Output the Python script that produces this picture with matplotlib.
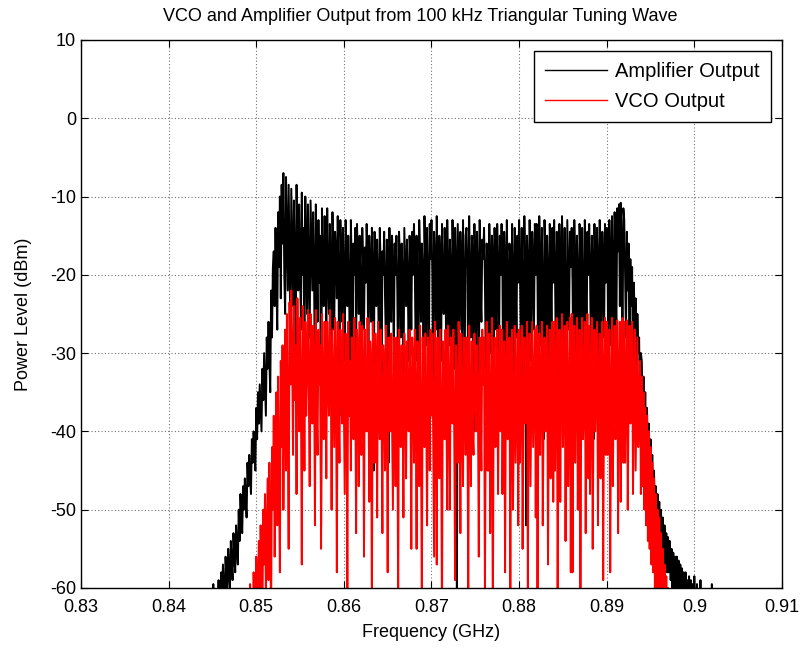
import numpy as np
import matplotlib
matplotlib.use("Agg")
import matplotlib.pyplot as plt

plt.rcParams['font.family'] = ['Liberation Sans', 'DejaVu Sans']
plt.rcParams['axes.unicode_minus'] = False

# spectrum samples, 0.1 MHz apart (values in dBm)
f_step = 0.0001

amp_start = 0.844
amp_dbm = [
    -70, -72, -68, -73, -69, -66, -71, -64, -70, -63, -68, -59.5, -66, -62, -67, -61, -64, -59, -65, -62,
    -58, -62, -57, -60, -63, -56, -59, -61, -55, -58, -60, -54, -57, -59, -53, -56, -58, -52, -55, -57,
    -50, -54, -48, -51, -53, -47, -50, -46, -49, -51, -44, -47, -43, -46, -48, -41, -44, -40, -43, -45,
    -37, -41, -35, -39, -34, -37, -40, -32, -36, -30, -34, -38, -28, -32, -26, -31, -35, -22, -28, -19,
    -17, -24, -14, -21, -27, -12, -19, -10, -23, -8.5, -16, -7, -20, -25, -7.5, -15, -22, -8.5, -18, -28,
    -9, -17, -24, -10.5, -19, -30, -8.5, -16, -22, -11, -18, -27, -9.5, -20, -14, -33, -10, -17, -25, -11,
    -19, -28, -10.5, -16, -22, -12, -20, -35, -11, -18, -26, -13, -21, -15, -52, -11.5, -19, -24, -12.5, -17,
    -29, -11.5, -20, -25, -13.5, -18, -32, -12, -19, -27, -14.5, -17, -23, -12.5, -21, -38, -13, -18, -26, -14,
    -20, -31, -13, -17, -24, -15, -21, -36, -13, -19, -28, -16, -20, -14, -30, -13.5, -18, -25, -15, -22,
    -40, -14, -19, -27, -16.5, -21, -13.5, -18, -33, -15, -20, -26, -14, -19, -45, -14.5, -18, -24, -15.5, -21,
    -30, -14, -19, -37, -17, -20, -14.5, -23, -29, -15.5, -18, -44, -14, -21, -26, -15, -19, -32, -16, -20,
    -15, -22, -35, -14.5, -18, -28, -16, -20, -39, -14, -19, -24, -15.5, -21, -31, -15, -18, -27, -14.5, -20,
    -13.5, -19, -31, -15, -22, -40, -13, -18, -26, -16, -20, -36, -12.5, -19, -29, -14, -21, -33, -13.5, -18,
    -13, -20, -37, -14.5, -18, -27, -12.5, -21, -42, -15, -19, -31, -13.5, -22, -25, -14, -18, -35, -13, -20,
    -29, -15.5, -19, -38, -13, -21, -32, -14, -18, -63, -13.5, -20, -27, -14.5, -19, -34, -13, -22, -30, -15,
    -14, -19, -36, -12.5, -21, -28, -15, -18, -40, -13.5, -20, -29, -14.5, -19, -37, -13, -22, -26, -15.5, -18,
    -14, -21, -32, -16, -19, -45, -13.5, -20, -30, -15, -18, -38, -14, -22, -27, -13.5, -19, -33, -15, -20,
    -13.5, -20, -39, -14.5, -19, -31, -13, -21, -35, -16, -18, -30, -13.5, -20, -42, -14, -19, -28, -15, -21,
    -13, -19, -30, -14, -22, -37, -12.5, -20, -52, -15, -18, -40, -13, -21, -31, -14.5, -19, -27, -13.5, -20,
    -13.5, -21, -36, -12.5, -19, -29, -14, -22, -41, -13, -18, -32, -15, -20, -37, -13.5, -19, -28, -14, -21,
    -13, -20, -31, -14.5, -18, -38, -13.5, -21, -30, -12.5, -19, -35, -14, -22, -43, -13, -20, -27, -14.5, -19,
    -14, -21, -34, -13, -19, -30, -15, -20, -39, -13.5, -18, -32, -14, -22, -36, -13, -19, -29, -14.5, -20,
    -13.5, -20, -30, -15, -19, -41, -13.5, -21, -33, -14, -18, -37, -13, -20, -31, -14.5, -19, -28, -13.5, -21,
    -14, -19, -35, -13, -20, -29, -12.5, -18, -33, -12, -19, -28, -11.5, -17, -11, -24, -10.8, -16, -30, -11.5,
    -13, -20, -28, -14.5, -22, -16, -33, -18, -24, -19, -34, -21, -27, -23, -36, -25, -30, -28, -39, -30,
    -31, -38, -33, -40, -35, -42, -37, -44, -39, -46, -41, -48, -43, -49, -45, -51, -47, -52, -48, -53,
    -49, -54, -50, -55, -51, -56, -52, -57, -53, -58, -53.5, -58, -54, -59, -55, -60, -55.5, -61, -56, -62,
    -56, -61, -56.5, -63, -57, -62, -57.5, -64, -58, -63, -58, -65, -59, -64, -58.5, -66, -59, -65, -59.5, -67,
    -58.5, -66, -62, -59.5, -68, -64, -70, -59, -69, -66, -71, -63, -70, -67, -72, -65, -71, -68, -73, -66,
    -59.5, -70, -72, -68, -73, -70, -74, -71, -75, -72, -76, -73, -75, -74, -76, -75, -77, -76, -78, -77,
]

vco_start = 0.848
vco_dbm = [
    -72, -75, -70, -74, -71, -73, -69, -72, -68, -71, -66, -70, -64, -59.5, -66, -62, -68, -58, -63, -67,
    -56, -64, -60, -54, -62, -52, -58, -65, -50, -57, -48, -61, -53, -46, -59, -44, -55, -63, -42, -50,
    -38, -56, -44, -35, -52, -33, -47, -58, -31, -42, -29, -50, -37, -27, -45, -25, -39, -55, -23.5, -34,
    -22, -31, -43, -24, -36, -29, -48, -23, -33, -40, -25.5, -35, -57, -24, -30, -45, -26, -38, -32, -24.5,
    -35, -47, -25, -33, -39, -26.5, -31, -52, -24.5, -37, -43, -27, -34, -29, -55, -25, -36, -41, -26, -32,
    -46, -26, -33, -38, -24.5, -30, -50, -27, -35, -42, -25.5, -31, -58, -26, -37, -44, -27, -32, -39, -25,
    -36, -48, -27.5, -33, -60, -26, -38, -31, -45, -28, -35, -41, -25.5, -34, -53, -27, -30, -47, -26, -39,
    -43, -26.5, -32, -56, -27, -36, -40, -25.5, -34, -49, -28.5, -31, -64, -26, -37, -44, -27.5, -33, -51, -26,
    -35, -41, -27, -38, -53, -29, -32, -45, -26.5, -36, -58, -28, -33, -40, -27.5, -39, -50, -28, -34, -47,
    -28, -37, -62, -27, -33, -42, -29, -36, -51, -27.5, -32, -46, -28.5, -38, -40, -27, -35, -55, -28, -31,
    -44, -27, -36, -55, -28.5, -33, -47, -26.5, -39, -63, -28, -34, -42, -27.5, -37, -52, -28, -31, -45, -27,
    -38, -27.5, -42, -56, -26, -34, -57, -28, -36, -46, -27, -39, -65, -28.5, -33, -41, -27, -37, -50, -26.5,
    -35, -50, -28, -32, -39, -27, -41, -59, -29, -36, -44, -26, -34, -53, -27.5, -38, -47, -28, -33, -43,
    -28, -37, -62, -26.5, -35, -47, -28.5, -40, -43, -27.5, -33, -40, -29, -36, -56, -28, -39, -45, -27, -34,
    -28, -61, -36, -26, -45, -33, -27.5, -53, -38, -25.5, -66, -34, -28, -42, -37, -27, -48, -32, -26.5, -40,
    -27, -48, -35, -28.5, -58, -33, -26, -41, -37, -28, -63, -34, -27, -50, -39, -26.5, -44, -36, -27.5, -52,
    -27, -44, -33, -26.5, -55, -38, -28, -39, -35, -26, -60, -32, -27.5, -47, -36, -26, -42, -34, -27, -51,
    -26.5, -64, -37, -27.5, -43, -33, -26, -52, -38, -28, -40, -35, -26.5, -57, -34, -27, -46, -39, -26, -49,
    -26, -45, -34, -25.5, -61, -38, -27, -49, -33, -25, -42, -36, -26.5, -54, -32, -26, -47, -37, -25.5, -58,
    -25, -58, -35, -26.5, -44, -33, -25.5, -50, -37, -27, -62, -34, -25.5, -41, -36, -26, -53, -32, -25, -46,
    -26.5, -48, -34, -25.5, -55, -37, -27, -40, -33, -26, -52, -36, -27.5, -46, -35, -26, -59, -33, -25.5, -43,
    -26, -43, -33, -27, -58, -36, -25.5, -47, -34, -26.5, -41, -38, -25.8, -53, -32, -26, -49, -35, -25.5, -44,
    -26, -44, -34, -25.8, -50, -36, -26.5, -39, -33, -26, -48, -35, -27, -45, -37, -28, -42, -36, -31, -48,
    -33, -47, -35, -50, -37, -52, -38, -54, -40, -55, -42, -57, -44, -58, -46, -60, -48, -61, -50, -63,
    -51, -63, -53, -65, -55, -66, -57, -68, -58.5, -69, -60, -70, -62, -71, -64, -72, -66, -73, -68, -74,
]

x_ticks = [0.83, 0.84, 0.85, 0.86, 0.87, 0.88, 0.89, 0.90, 0.91]
x_labels = ['0.83', '0.84', '0.85', '0.86', '0.87', '0.88', '0.89', '0.9', '0.91']
y_ticks = [-60, -50, -40, -30, -20, -10, 0, 10]

amp_f = amp_start + f_step * np.arange(len(amp_dbm))
vco_f = vco_start + f_step * np.arange(len(vco_dbm))

fig = plt.figure(figsize=(8.02, 6.51), dpi=100)
ax = fig.add_axes([0.101, 0.0968, 0.874, 0.8418])

ax.plot(amp_f, amp_dbm, color='black', lw=1.4, label='Amplifier Output')
ax.plot(vco_f, vco_dbm, color='red', lw=1.4, label='VCO Output')

ax.set_xlim(0.83, 0.91)
ax.set_ylim(-60, 10)
ax.set_xticks(x_ticks)
ax.set_xticklabels(x_labels)
ax.set_yticks(y_ticks)
ax.tick_params(direction='in', top=True, right=True, length=5, labelsize=13)
ax.tick_params(axis='x', pad=8)
ax.grid(True, color='0.45', linestyle=(0, (1, 2)), linewidth=0.8)
for s in ax.spines.values():
    s.set_linewidth(1.0)

ax.set_title('VCO and Amplifier Output from 100 kHz Triangular Tuning Wave',
             fontsize=13, pad=14, x=0.484)
ax.set_xlabel('Frequency (GHz)', fontsize=13, labelpad=6)
ax.set_ylabel('Power Level (dBm)', fontsize=13, labelpad=13)

leg = ax.legend(loc='upper right', fontsize=14.5, fancybox=False, framealpha=1,
                edgecolor='black', borderaxespad=0.55, handlelength=3.1,
                handletextpad=0.4, labelspacing=0.55, borderpad=0.55)
for h in leg.get_lines():
    h.set_linewidth(1.0)
leg.get_frame().set_linewidth(1.0)

fig.savefig('out.png', dpi=100)
